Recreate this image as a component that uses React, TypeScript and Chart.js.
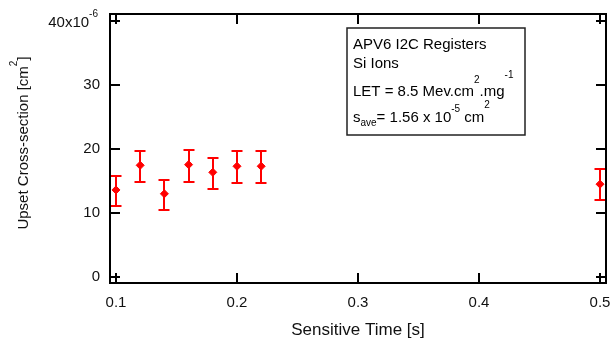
import React, { useEffect, useRef } from "react";
import { Chart, registerables } from "chart.js";

Chart.register(...registerables);

// ---- data ----
const sensitiveTime = [0.1, 0.12, 0.14, 0.16, 0.18, 0.2, 0.22, 0.5];
const crossSection = [13.6, 17.45, 13.0, 17.55, 16.35, 17.3, 17.3, 14.5]; // x1e-6 cm^2
const errUpper = [15.8, 19.7, 15.2, 19.8, 18.6, 19.7, 19.7, 16.9];
const errLower = [11.1, 14.9, 10.5, 14.9, 13.75, 14.7, 14.7, 12.0];
const xTicks = [0.1, 0.2, 0.3, 0.4, 0.5];
const yTicks = [0, 10, 20, 30, 40];

const FONT = "'Liberation Sans', Arial, sans-serif";
const RED = "#ff0000";

const framePlugin = {
  id: "framePlugin",
  beforeDatasetsDraw(chart: any) {
    const { ctx } = chart;
    const x = chart.scales.x;
    const y = chart.scales.y;
    ctx.save();
    ctx.strokeStyle = RED;
    ctx.lineWidth = 2;
    for (let i = 0; i < sensitiveTime.length; i++) {
      const px = Math.round(x.getPixelForValue(sensitiveTime[i]));
      const top = Math.round(y.getPixelForValue(errUpper[i]));
      const bot = Math.round(y.getPixelForValue(errLower[i]));
      ctx.beginPath();
      ctx.moveTo(px, top);
      ctx.lineTo(px, bot);
      ctx.moveTo(px - 5.5, top);
      ctx.lineTo(px + 5.5, top);
      ctx.moveTo(px - 5.5, bot);
      ctx.lineTo(px + 5.5, bot);
      ctx.stroke();
    }
    ctx.restore();
  },
  afterDraw(chart: any) {
    const { ctx, chartArea } = chart;
    const { left, right, top, bottom } = chartArea;
    const x = chart.scales.x;
    const y = chart.scales.y;
    ctx.save();
    // frame
    ctx.strokeStyle = "#000";
    ctx.lineWidth = 2;
    ctx.strokeRect(left, top, right - left, bottom - top);
    // inner ticks on all four sides
    ctx.beginPath();
    const TL = 10;
    for (const v of yTicks) {
      const py = Math.round(y.getPixelForValue(v));
      ctx.moveTo(left, py);
      ctx.lineTo(left + TL, py);
      ctx.moveTo(right, py);
      ctx.lineTo(right - TL, py);
    }
    for (const v of xTicks) {
      const px = Math.round(x.getPixelForValue(v));
      ctx.moveTo(px, bottom);
      ctx.lineTo(px, bottom - TL);
      ctx.moveTo(px, top);
      ctx.lineTo(px, top + TL);
    }
    ctx.stroke();

    // top y tick label with exponent
    ctx.fillStyle = "#111";
    const py40 = y.getPixelForValue(yTicks[yTicks.length - 1]);
    ctx.textBaseline = "alphabetic";
    const main = "40x10";
    ctx.font = `10px ${FONT}`;
    const supW = ctx.measureText("-6").width;
    ctx.font = `15px ${FONT}`;
    const mainW = ctx.measureText(main).width;
    const endX = 98;
    ctx.textAlign = "left";
    ctx.fillText(main, endX - supW - mainW, py40 + 6);
    ctx.font = `10px ${FONT}`;
    ctx.fillText("-6", endX - supW, py40 - 4);

    // y axis title rotated
    ctx.save();
    ctx.translate(28, 143);
    ctx.rotate(-Math.PI / 2);
    ctx.font = `15px ${FONT}`;
    const t1 = "Upset Cross-section [cm";
    const w1 = ctx.measureText(t1).width;
    ctx.font = `10px ${FONT}`;
    const w2 = ctx.measureText("2").width;
    ctx.font = `15px ${FONT}`;
    const w3 = ctx.measureText("]").width;
    const total = w1 + w2 + w3;
    let cx = -total / 2;
    ctx.textAlign = "left";
    ctx.fillStyle = "#111";
    ctx.fillText(t1, cx, 0);
    cx += w1;
    ctx.font = `10px ${FONT}`;
    ctx.fillText("2", cx, -11);
    cx += w2;
    ctx.font = `15px ${FONT}`;
    ctx.fillText("]", cx, 0);
    ctx.restore();

    // annotation box
    ctx.fillStyle = "#fff";
    ctx.fillRect(347, 28, 178, 107);
    ctx.strokeStyle = "#222";
    ctx.lineWidth = 1.5;
    ctx.strokeRect(347, 28, 178, 107);
    ctx.fillStyle = "#000";
    const tx = 353;
    const seg = (parts: [string, number, number][], baseY: number) => {
      let cx2 = tx;
      for (const [s, size, dy] of parts) {
        ctx.font = `${size}px ${FONT}`;
        ctx.fillText(s, cx2, baseY + dy);
        cx2 += ctx.measureText(s).width;
      }
    };
    seg([["APV6 I2C Registers", 15, 0]], 49);
    seg([["Si Ions", 15, 0]], 68);
    seg(
      [
        ["LET = 8.5 Mev.cm", 15, 0],
        ["2", 10, -13],
        [".mg", 15, 0],
        ["-1", 10, -18],
      ],
      96
    );
    seg(
      [
        ["s", 15, 0],
        ["ave", 10, 4],
        ["= 1.56 x 10", 15, 0],
        ["-5", 10, -10],
        [" cm", 15, 0],
        ["2", 10, -14],
      ],
      122
    );
    ctx.restore();
  },
};

export default function App() {
  const ref = useRef<HTMLCanvasElement>(null);
  useEffect(() => {
    if (!ref.current) return;
    const chart = new Chart(ref.current, {
      type: "scatter",
      data: {
        datasets: [
          {
            data: sensitiveTime.map((t, i) => ({ x: t, y: crossSection[i] })),
            pointStyle: "rectRot",
            pointRadius: 4,
            backgroundColor: RED,
            borderColor: RED,
            borderWidth: 1,
          },
        ],
      },
      options: {
        animation: false,
        responsive: false,
        events: [],
        layout: { padding: { top: 14, right: 3, left: 0, bottom: 0 } },
        plugins: { legend: { display: false }, tooltip: { enabled: false } },
        scales: {
          x: {
            type: "linear",
            min: 0.09506,
            max: 0.50494,
            grid: { display: false, drawTicks: false },
            border: { display: false },
            afterBuildTicks: (s: any) => {
              s.ticks = xTicks.map((v) => ({ value: v }));
            },
            afterFit: (s: any) => {
              s.height = 60;
              s.paddingLeft = 0;
              s.paddingRight = 0;
            },
            ticks: {
              padding: 11,
              color: "#111",
              font: { family: FONT, size: 15 },
              callback: (v: any) => Number(v).toFixed(1),
              maxRotation: 0,
            },
            title: {
              display: true,
              text: "Sensitive Time [s]",
              color: "#111",
              font: { family: FONT, size: 17 },
              padding: { top: 0, bottom: 2 },
            },
          },
          y: {
            type: "linear",
            min: -0.94,
            max: 41.09,
            grid: { display: false, drawTicks: false },
            border: { display: false },
            afterBuildTicks: (s: any) => {
              s.ticks = yTicks.map((v) => ({ value: v }));
            },
            afterFit: (s: any) => {
              s.width = 110;
              s.paddingTop = 0;
              s.paddingBottom = 0;
            },
            ticks: {
              padding: 10,
              color: "#111",
              font: { family: FONT, size: 15 },
              callback: (v: any) => (Number(v) === 40 ? "" : String(v)),
            },
          },
        },
      },
      plugins: [framePlugin],
    });
    return () => chart.destroy();
  }, []);
  return (
    <div style={{ position: "fixed", left: 0, top: 0, width: 611, height: 343, background: "#fff" }}>
      <canvas ref={ref} width={611} height={343} />
    </div>
  );
}
